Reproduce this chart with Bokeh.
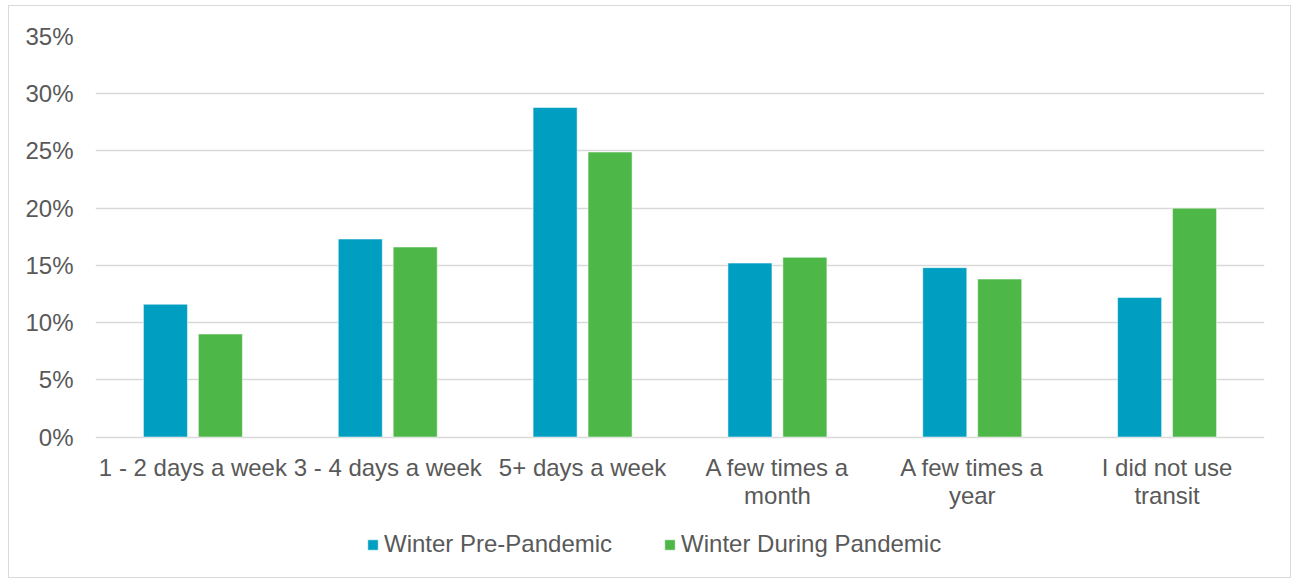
from bokeh.plotting import figure
from bokeh.models import (ColumnDataSource, FactorRange, FixedTicker, PrintfTickFormatter,
                          Legend, LegendItem, Range1d)
from bokeh.core.properties import value
from bokeh.transform import dodge
from bokeh.embed import file_html
from bokeh.resources import INLINE

categories = ["1 - 2 days a week", "3 - 4 days a week", "5+ days a week",
              "A few times a month", "A few times a year", "I did not use transit"]
label_line1 = ["1 - 2 days a week", "3 - 4 days a week", "5+ days a week",
               "A few times a", "A few times a", "I did not use"]
label_line2 = ["", "", "", "month", "year", "transit"]
pre_pandemic = [11.6, 17.3, 28.8, 15.2, 14.8, 12.2]
during_pandemic = [9.0, 16.6, 24.9, 15.7, 13.8, 20.0]
series_names = ["Winter Pre-Pandemic", "Winter During Pandemic"]
y_ticks = [0, 5, 10, 15, 20, 25, 30, 35]

BLUE = "#009FC2"
GREEN = "#4DB748"
TXT = "#595959"
FONT = "Liberation Sans"
FS = "24px"

# layout (pixels)
W, H = 1283, 573
B_LEFT, B_RIGHT, B_TOP, B_BOTTOM = 86, 28, 30, 3
FRAME_H = H - B_TOP - B_BOTTOM
PX_PER_UNIT = 400.5 / 35.0          # 35 percentage points span 400.5 px
Y_MAX = 35.0
Y_MIN = Y_MAX - FRAME_H / PX_PER_UNIT

def px(v):
    return v / PX_PER_UNIT

src = ColumnDataSource(dict(cat=categories, pre=pre_pandemic, dur=during_pandemic,
                            l1=label_line1, l2=label_line2))

p = figure(x_range=FactorRange(factors=categories, range_padding=0),
           y_range=Range1d(Y_MIN, Y_MAX),
           width=W, height=H, output_backend="svg", toolbar_location=None,
           x_axis_location=None,
           min_border_left=B_LEFT, min_border_right=B_RIGHT,
           min_border_top=B_TOP, min_border_bottom=B_BOTTOM)

r1 = p.vbar(x=dodge("cat", -0.141, range=p.x_range), top="pre", bottom=0, width=0.226, source=src,
            fill_color=BLUE, line_color="white", line_alpha=0.5, line_width=1)
r2 = p.vbar(x=dodge("cat", 0.141, range=p.x_range), top="dur", bottom=0, width=0.226, source=src,
            fill_color=GREEN, line_color="white", line_alpha=0.5, line_width=1)

# category labels (two lines)
p.text(x="cat", y=-px(30), text="l1", source=src, text_align="center", text_baseline="middle",
       text_font=value(FONT), text_font_size=FS, text_color=TXT)
p.text(x="cat", y=-px(58), text="l2", source=src, text_align="center", text_baseline="middle",
       text_font=value(FONT), text_font_size=FS, text_color=TXT)

p.outline_line_color = None
p.xgrid.grid_line_color = None
p.ygrid.grid_line_color = "#D9D9D9"
p.ygrid.grid_line_width = 1.5
p.yaxis.ticker = FixedTicker(ticks=y_ticks)
p.yaxis.formatter = PrintfTickFormatter(format="%d%%")
ax = p.yaxis[0]
ax.axis_line_color = None
ax.major_tick_line_color = None
ax.minor_tick_line_color = None
ax.major_tick_out = 0
ax.major_tick_in = 0
ax.major_label_text_font = FONT
ax.major_label_text_font_size = FS
ax.major_label_text_color = TXT
ax.major_label_standoff = 22

legend = Legend(items=[LegendItem(label=series_names[0], renderers=[r1]),
                       LegendItem(label=series_names[1], renderers=[r2])],
                orientation="horizontal", location=(271, 18),
                margin=0, padding=0, spacing=51, label_standoff=5,
                glyph_width=13, glyph_height=13,
                label_text_font=FONT, label_text_font_size=FS, label_text_color=TXT,
                border_line_color=None, background_fill_alpha=0)
p.add_layout(legend, "center")

p.styles = {"border": "1px solid #D9D9D9", "margin-left": "8px", "margin-top": "5px"}

open("out.html", "w").write(file_html(p, INLINE))
